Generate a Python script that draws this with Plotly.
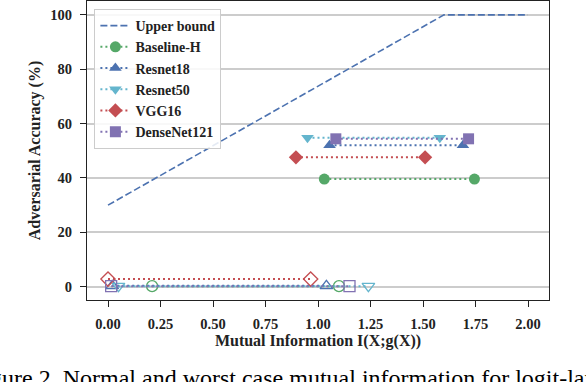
import plotly.graph_objects as go

# ---- data ----
models = ["Baseline-H", "Resnet18", "Resnet50", "VGG16", "DenseNet121"]
colors = ["#55A868", "#4C72B0", "#64B5CD", "#C44E52", "#8172B2"]
symbols = ["circle", "triangle-up", "triangle-down", "diamond", "square"]

# worst-case (filled markers)
high_x_left = [1.03, 1.055, 0.95, 0.895, 1.085]
high_x_right = [1.745, 1.69, 1.58, 1.51, 1.717]
high_y = [39.6, 52.0, 54.8, 47.6, 54.4]

# normal (open markers)
low_x_left = [0.21, 0.02, 0.05, 0.0, 0.015]
low_x_right = [1.10, 1.04, 1.24, 0.965, 1.15]
low_y = [0.2, 0.3, 0.2, 2.8, 0.2]

bound_x = [0.0, 1.6, 2.0]
bound_y = [30, 100, 100]

x_ticks = [0.0, 0.25, 0.5, 0.75, 1.0, 1.25, 1.5, 1.75, 2.0]
x_ticktext = ["0.00", "0.25", "0.50", "0.75", "1.00", "1.25", "1.50", "1.75", "2.00"]
y_ticks = [0, 20, 40, 60, 80, 100]

FONT = "Liberation Serif"
DOT = "2px,3px"

fig = go.Figure()
fig.add_trace(go.Scatter(x=bound_x, y=bound_y, mode="lines", name="Upper bound",
                         line=dict(color="#4C72B0", width=1.6, dash="7px,3px")))

for i, m in enumerate(models):
    fig.add_trace(go.Scatter(
        x=[low_x_left[i], low_x_right[i]], y=[low_y[i], low_y[i]],
        mode="lines+markers", name=m, legendgroup=m, showlegend=False,
        line=dict(color=colors[i], width=2, dash=DOT),
        marker=dict(symbol=symbols[i] + "-open", size=11, color=colors[i],
                    line=dict(width=1.3, color=colors[i]))))
for i, m in enumerate(models):
    fig.add_trace(go.Scatter(
        x=[high_x_left[i], high_x_right[i]], y=[high_y[i], high_y[i]],
        mode="lines+markers", name=m, legendgroup=m,
        line=dict(color=colors[i], width=2, dash=DOT),
        marker=dict(symbol=symbols[i], size=11, color=colors[i],
                    line=dict(width=0))))

axis_common = dict(showline=True, linecolor="#222222", linewidth=1.3, mirror=True,
                   ticks="outside", ticklen=6, tickwidth=1.2, tickcolor="#222222",
                   zeroline=False, automargin=False,
                   tickfont=dict(family=FONT, size=14.5, color="#222222", weight="bold"))

fig.update_xaxes(range=[-0.1, 2.1], tickvals=x_ticks, ticktext=x_ticktext,
                 showgrid=False, ticklabelstandoff=4,
                 title=dict(text="Mutual Information I(X;g(X))", standoff=4,
                            font=dict(family=FONT, size=16, color="#222222", weight="bold")),
                 **axis_common)
fig.update_yaxes(range=[-4.9, 105.1], tickvals=y_ticks,
                 showgrid=True, gridcolor="#cccccc", gridwidth=1.5,
                 ticklabelstandoff=5,
                 title=dict(text="Adversarial Accuracy (%)", standoff=5,
                            font=dict(family=FONT, size=16, color="#222222", weight="bold")),
                 **axis_common)

fig.add_annotation(text="Figure 2. Normal and worst case mutual information for logit-layer",
                   xref="paper", yref="paper", x=-0.258, y=-0.261,
                   xanchor="left", yanchor="middle", showarrow=False,
                   font=dict(family=FONT, size=24, color="black"))

fig.update_layout(
    width=586, height=382,
    margin=dict(l=87, r=37, t=1, b=82),
    paper_bgcolor="white", plot_bgcolor="white",
    legend=dict(x=0.016, y=0.973, xanchor="left", yanchor="top",
                bgcolor="rgba(255,255,255,0.85)", bordercolor="#cccccc", borderwidth=1,
                font=dict(family=FONT, size=14, color="#222222", weight="bold"),
                itemwidth=30, tracegroupgap=0),
)

fig.write_html("out.html", config={"displayModeBar": False},
               post_script="document.body.style.margin='0';document.body.style.overflow='hidden';")
